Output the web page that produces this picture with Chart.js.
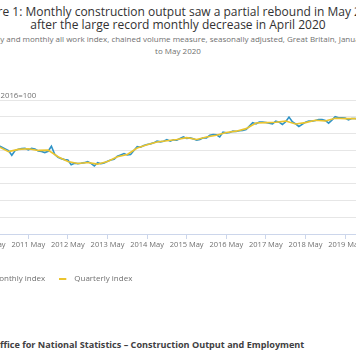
<!DOCTYPE html>
<html><head><meta charset="utf-8">
<script src="https://cdn.jsdelivr.net/npm/chart.js@4/dist/chart.umd.min.js"></script>
<style>
html,body{margin:0;padding:0;background:#fff;overflow:hidden;width:356px;height:364px;}
#wrap{position:absolute;left:-70px;top:0;width:496px;height:364px;font-family:'Open Sans',sans-serif;}
#title{position:absolute;left:0;top:5px;width:496px;text-align:center;font-size:12px;line-height:13px;color:#323132;white-space:nowrap;}
#subtitle{position:absolute;left:0;top:33px;width:496px;text-align:center;font-size:8px;line-height:12px;color:#707070;white-space:nowrap;}
#cw{position:absolute;left:0;top:60px;width:496px;height:240px;}
#source{position:absolute;left:27px;top:339px;font-size:9.1px;line-height:12px;font-weight:700;color:#414042;white-space:nowrap;}
</style></head>
<body>
<div id="wrap">
<div id="title">Figure 1: Monthly construction output saw a partial rebound in May 2020<br>after the large record monthly decrease in April 2020</div>
<div id="subtitle">Quarterly and monthly all work index, chained volume measure, seasonally adjusted, Great Britain, January 2010<br>to May 2020</div>
<div id="cw"><canvas id="c"></canvas></div>
<div id="source">Source: Office for National Statistics – Construction Output and Employment</div>
</div>
<script>
const monthNames=['Jan','Feb','Mar','Apr','May','Jun','Jul','Aug','Sep','Oct','Nov','Dec'];
const months=[];
for(let y=2010;y<=2020;y++){for(let i=0;i<12;i++){if(y===2020&&i>4)break;months.push(monthNames[i]+' '+y);}}

const monthlyIndex=[
 86.0,86.8,88.6,89.4,90.0,91.2,92.0,92.8,91.8,90.8,89.8,87.0,
 89.8,90.6,91.0,91.2,90.2,91.2,90.8,89.6,89.2,88.6,89.4,92.4,
 87.6,85.8,85.0,84.4,84.2,81.4,82.2,82.0,82.2,82.6,83.2,82.2,
 80.6,82.6,82.0,82.4,83.4,84.2,84.6,86.4,87.2,88.0,87.2,87.4,
 89.8,92.2,91.8,92.8,93.4,93.8,94.4,95.4,95.0,95.4,96.4,95.4,
 96.2,96.0,97.0,98.0,97.0,97.4,96.8,96.0,96.4,97.4,97.4,99.0,
 99.4,99.2,98.0,100.8,100.4,100.6,101.4,101.2,101.6,101.8,102.4,104.4,
 106.4,105.8,106.8,106.8,106.6,106.2,105.8,107.4,106.8,105.4,107.0,109.8,
 107.0,105.8,104.2,105.4,106.8,107.4,107.4,107.8,108.4,108.4,107.8,106.2,
 108.0,110.0,109.4,109.4,109.2,108.2,109.0,109.0,108.6,107.8,107.0,108.0,
 109.2,107.6,101.2,60.6,65.6
];

const quarters=[];
for(let y=2010;y<=2020;y++){for(let q=1;q<=4;q++){if(y===2020&&q>1)break;quarters.push('Q'+q+' '+y);}}
const quarterlyIndex=[
 87.1,90.2,92.2,89.2,
 90.5,90.9,89.9,90.1,
 86.1,83.3,82.1,82.7,
 81.7,83.3,86.1,87.5,
 91.3,93.3,94.9,95.7,
 96.4,97.5,96.4,97.9,
 98.9,100.6,101.4,102.9,
 106.3,106.5,106.7,107.4,
 105.7,106.5,107.9,107.5,
 109.1,108.9,108.9,107.6,
 106.0
];
const midMonth=['Feb','May','Aug','Nov'];
const quarterX=quarters.map(q=>{const p=q.split(' ');return months.indexOf(midMonth[+p[0].slice(1)-1]+' '+p[1]);});

const xTickLabels=['2010 May','2011 May','2012 May','2013 May','2014 May','2015 May','2016 May','2017 May','2018 May','2019 May','2020 May'];
const tickPos=xTickLabels.map(l=>{const p=l.split(' ');return months.indexOf(p[1]+' '+p[0]);});

const unitText='Index, 2016=100';
const unitPrefix='Index, ';

function legendLine(color){const c=document.createElement('canvas');c.width=11;c.height=2;const g=c.getContext('2d');g.fillStyle=color;g.fillRect(0,0,7,2);return c;}

const unitLabel={id:'unitLabel',afterDraw(chart){const c=chart.ctx;c.save();c.font="7.8px 'Open Sans'";c.fillStyle='#707070';c.textBaseline='alphabetic';c.textAlign='left';const pre=c.measureText(unitPrefix).width;c.fillText(unitText,70.5-pre,chart.chartArea.top-2);c.restore();}};

const font={family:"'Open Sans', sans-serif",size:7.5};
new Chart(document.getElementById('c'),{
 type:'line',
 data:{datasets:[
  {label:'Monthly index',data:monthlyIndex.map((v,i)=>({x:i,y:v})),borderColor:'#2f93c7',backgroundColor:'#2f93c7',borderWidth:1.6,pointRadius:0,tension:0,order:1},
  {label:'Quarterly index',data:quarterlyIndex.map((v,i)=>({x:quarterX[i],y:v})),borderColor:'#ebc42e',backgroundColor:'#ebc42e',borderWidth:1.6,pointRadius:0,tension:0,order:0}
 ]},
 options:{
  responsive:true,maintainAspectRatio:false,animation:false,devicePixelRatio:1,
  layout:{padding:{left:33,right:41.3,top:40,bottom:7}},
  scales:{
   x:{type:'linear',min:0,max:months.length-1,
      afterBuildTicks:s=>{s.ticks=tickPos.map(v=>({value:v}));},
      afterFit:s=>{s.height=27;},
      ticks:{autoSkip:false,maxRotation:0,padding:1,font:font,color:'#707070',callback:v=>xTickLabels[tickPos.indexOf(v)]},
      grid:{drawOnChartArea:false,drawTicks:true,tickLength:5,color:'#ccd6eb'},
      border:{display:true,color:'#ccd6eb'}},
   y:{min:40,max:120,
      afterFit:s=>{s.width=12.5;},
      ticks:{stepSize:10,font:font,color:'#707070',padding:4},
      grid:{color:'#e6e6e6',drawTicks:false},
      border:{display:false}}
  },
  plugins:{
   legend:{position:'bottom',align:'start',
     labels:{usePointStyle:true,pointStyleWidth:11,padding:14,font:{family:"'Open Sans', sans-serif",size:8},color:'#707070',
       generateLabels:chart=>{const items=Chart.defaults.plugins.legend.labels.generateLabels(chart);items.sort((a,b)=>a.datasetIndex-b.datasetIndex);items.forEach(it=>{it.pointStyle=legendLine(it.strokeStyle);});return items;}}},
   tooltip:{enabled:false}
  }
 },
 plugins:[unitLabel]
});
</script>
</body></html>
